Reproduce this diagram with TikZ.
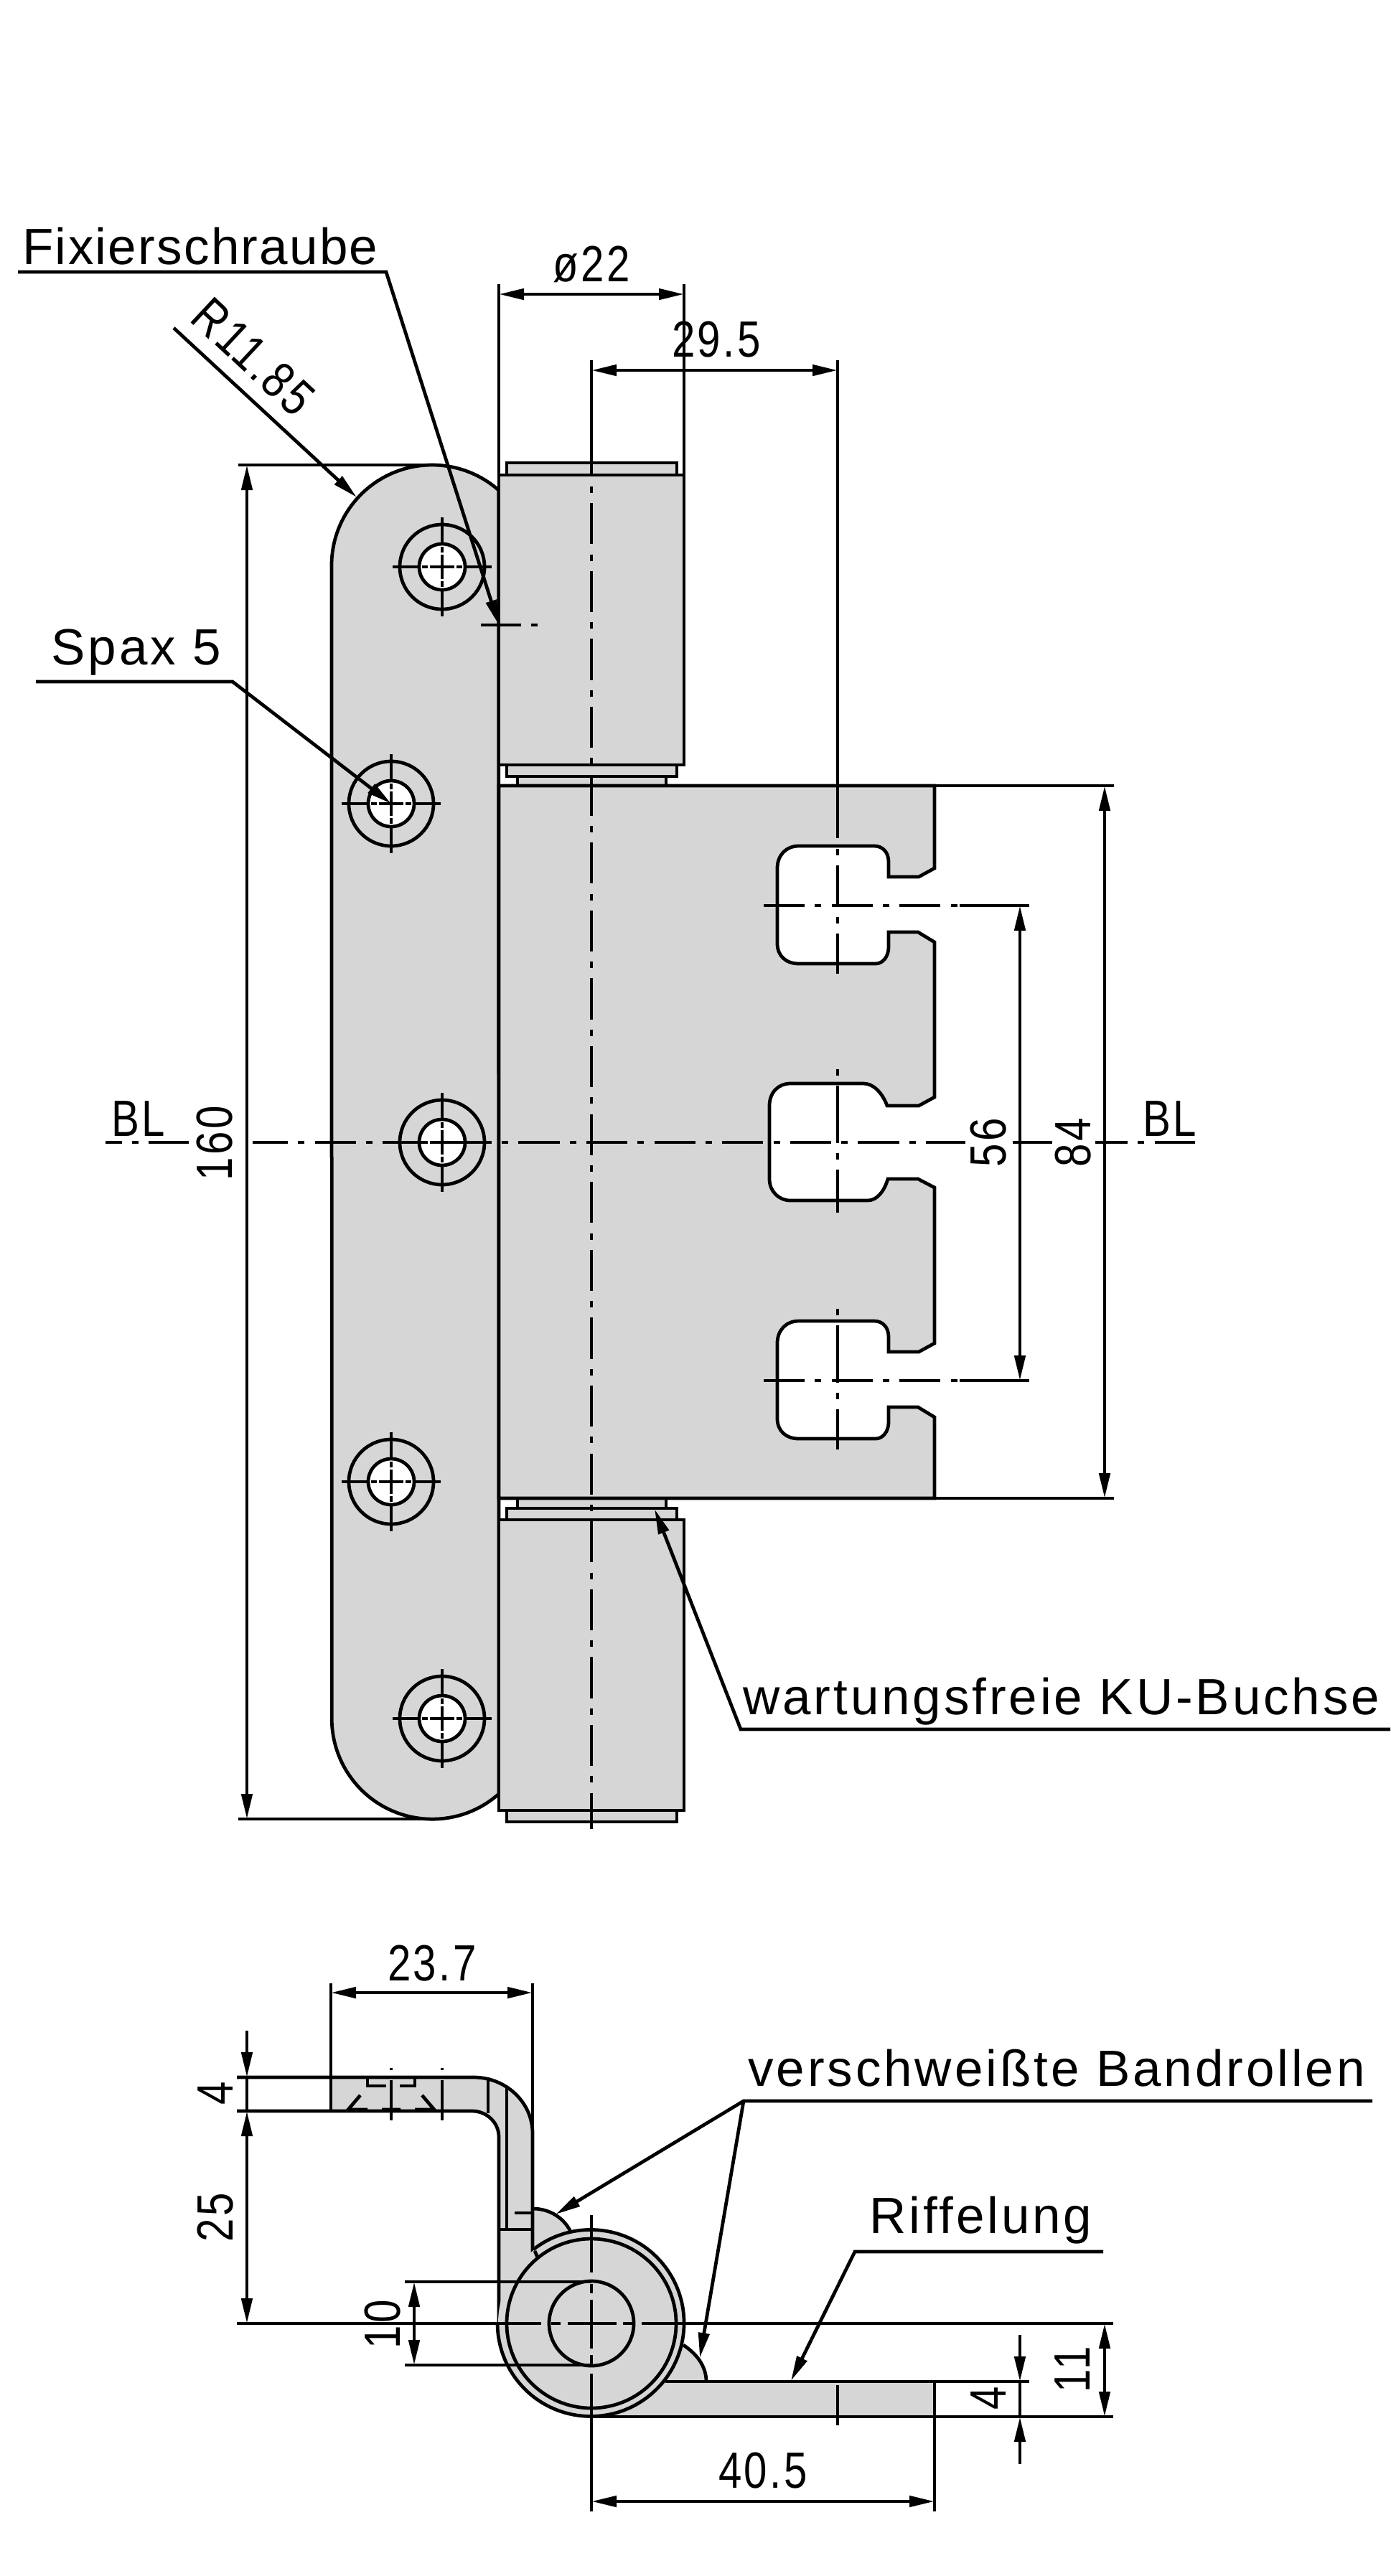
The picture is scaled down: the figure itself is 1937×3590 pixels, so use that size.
\documentclass[tikz,border=0pt]{standalone}
\usepackage{fontspec}
\setmainfont[LetterSpace=5.5]{Liberation Sans}
\newfontfamily\dimfont[FakeStretch=0.82,LetterSpace=5]{Liberation Sans}
\usetikzlibrary{arrows.meta}
\definecolor{partgray}{HTML}{D6D6D6}
\tikzset{
  >={Triangle[length=7pt,width=3pt]},
  part/.style={fill=partgray,draw=black},
  axis/.style={dash pattern=on 11.44pt off 2.84pt on 1.8pt off 2.84pt},
  slotaxis/.style={dash pattern=on 1.8pt off 2.8pt on 16pt off 2.8pt},
  dimlabel/.style={font=\dimfont\fontsize{14.2pt}{16pt}\selectfont,inner sep=0pt},
  notelabel/.style={font=\fontsize{14.2pt}{16pt}\selectfont,inner sep=0pt,anchor=base west},
}
\newcommand{\screwhole}[2]{% centre x, centre y
  \begin{scope}[shift={(#1,#2)}]
    \draw (0,0) circle [radius=59];
    \filldraw[fill=white] (0,0) circle [radius=32];
    \foreach \a in {0,90,180,270}{\draw[rotate=\a] (32,0) -- (69,0) (20,0) -- (28,0);}
    \draw (-17,0) -- (17,0) (0,-17) -- (0,17);
  \end{scope}}
\newcommand{\sideslot}[1]{% slot with the short neck, shifted down by #1
  -- (1302,1210+#1) -- (1280,1222+#1) -- (1238,1222+#1) -- (1238,1201+#1)
  .. controls (1238,1188+#1) and (1230,1179+#1) .. (1218,1179+#1) -- (1113,1179+#1)
  .. controls (1095,1179+#1) and (1083,1192+#1) .. (1083,1210+#1) -- (1083,1315+#1)
  .. controls (1083,1332+#1) and (1095,1343+#1) .. (1113,1343+#1) -- (1220,1343+#1)
  .. controls (1230,1343+#1) and (1238,1333+#1) .. (1238,1320+#1) -- (1238,1299+#1)
  -- (1279,1299+#1) -- (1302,1313+#1)}
\begin{document}
\begin{tikzpicture}[x=0.2pt,y=-0.2pt,line width=0.95pt]
  \useasboundingbox (0,0) rectangle (1937,3590);
  % front view: plate with the screw holes
  \filldraw[part] (462,788) arc [start angle=180,end angle=311.5,radius=140]
      -- (695,2500) arc [start angle=48.5,end angle=180,radius=140] -- cycle;
  \screwhole{616}{790}
  \screwhole{545}{1120}
  \screwhole{616}{1592}
  \screwhole{545}{2065}
  \screwhole{616}{2395}
  % rollers
  \filldraw[part] (706,645) rectangle (943,662);
  \filldraw[part] (695,662) rectangle (953,1066);
  \filldraw[part] (706,1066) rectangle (943,1082);
  \filldraw[part] (721,1082) rectangle (928,1095);
  \filldraw[part] (721,2088) rectangle (928,2102);
  \filldraw[part] (706,2102) rectangle (943,2118);
  \filldraw[part] (695,2118) rectangle (953,2523);
  \filldraw[part] (706,2523) rectangle (943,2539);
  % leaf with three slots
  \filldraw[part] (695,1095) -- (1302,1095) \sideslot{0}
      -- (1302,1529) -- (1280,1541) -- (1236,1541)
      .. controls (1228,1520) and (1215,1510) .. (1203,1510) -- (1101,1510)
      .. controls (1085,1510) and (1072,1522) .. (1072,1541) -- (1072,1643)
      .. controls (1072,1660) and (1085,1673) .. (1101,1673) -- (1209,1673)
      .. controls (1222,1673) and (1232,1660) .. (1237,1643) -- (1279,1643) -- (1302,1655)
      \sideslot{662} -- (1302,2088) -- (695,2088) -- cycle;
  % centre lines
  \draw[axis,dash phase=14.28pt] (824,678) -- (824,2549);
  \draw (824,502) -- (824,662);
  \draw[axis,dash phase=6.84pt] (147,1592) -- (263,1592);
  \draw[axis,dash phase=1.6pt] (352,1592) -- (1345,1592);
  \draw (1411,1592) -- (1466,1592);
  \draw[axis,dash phase=2.4pt] (1526,1592) -- (1665,1592);
  \draw[axis] (1064,1262) -- (1334,1262);
  \draw (1337,1262) -- (1434,1262);
  \draw[axis] (1064,1924) -- (1334,1924);
  \draw (1337,1924) -- (1434,1924);
  \draw (1167,502) -- (1167,1168);
  \draw[axis,dash phase=14.28pt] (1167,1183) -- (1167,1357);
  \draw[slotaxis] (1167,1490) -- (1167,1690);
  \draw[slotaxis] (1167,1824) -- (1167,2020);
  \draw (670,871) -- (726,871) (740,871) -- (749,871);
  % dimensions of the front view
  \draw (695,396) -- (695,662) (953,396) -- (953,662);
  \draw[<->] (695,410) -- (953,410);
  \node[dimlabel,anchor=base] (dimBore) at (824,392) {ø22};
  \draw[<->] (824,516) -- (1167,516);
  \node[dimlabel,anchor=base] (dimOffset) at (998,497) {29.5};
  \draw (332,648) -- (590,648) (332,2535) -- (590,2535);
  \draw[<->] (344,648) -- (344,2535);
  \node[dimlabel,rotate=90] (dimHeight) at (299,1593) {160};
  \draw[<->] (1421,1262) -- (1421,1924);
  \node[dimlabel,rotate=90] (dimSlots) at (1377,1592) {56};
  \draw (1302,1095) -- (1552,1095) (1302,2088) -- (1552,2088);
  \draw[<->] (1539,1095) -- (1539,2088);
  \node[dimlabel,rotate=90] (dimLeaf) at (1495,1592) {84};
  \node[dimlabel,anchor=base west] (blLeft) at (153,1583) {BL};
  \node[dimlabel,anchor=base west] (blRight) at (1590,1583) {BL};
  % notes of the front view
  \coordinate (fixStart) at (25,379);
  \coordinate (fixKnee) at (538,379);
  \coordinate (fixTip) at (695,871);
  \draw[->] (fixStart) -- (fixKnee) -- (fixTip);
  \node[notelabel] (fixNote) at (29,368) {\addfontfeature{LetterSpace=3.2}Fixierschraube};
  \coordinate (radStart) at (242,457);
  \coordinate (radTip) at (497,693);
  \draw[->] (radStart) -- (radTip);
  \node[dimlabel,rotate=-43] (radNote) at (353,497) {R11.85};
  \coordinate (spaxStart) at (50,950);
  \coordinate (spaxKnee) at (324,950);
  \coordinate (spaxTip) at (545,1120);
  \draw[->] (spaxStart) -- (spaxKnee) -- (spaxTip);
  \node[notelabel] (spaxNote) at (69,926) {Spax 5};
  \coordinate (kuEnd) at (1937,2410);
  \coordinate (kuKnee) at (1032,2410);
  \coordinate (kuTip) at (912,2103);
  \draw[->] (kuEnd) -- (kuKnee) -- (kuTip);
  \node[notelabel] (kuNote) at (1033,2389) {wartungsfreie KU-Buchse};
  % section: bent plate
  \fill[partgray] (462,2895) -- (660,2895) .. controls (705,2895) and (742,2930) .. (742,2973)
      -- (742,3238) -- (695,3238) -- (695,2978) .. controls (695,2958) and (678,2942) .. (658,2942)
      -- (462,2942) -- cycle;
  \fill[partgray] (824,3319) rectangle (1302,3368);
  \fill[partgray] (742,3078) .. controls (765,3078) and (785,3090) .. (795,3110) -- (742,3140) -- cycle;
  \fill[partgray] (952,3268) .. controls (970,3280) and (984,3297) .. (984,3319) -- (920,3319) -- cycle;
  \draw (330,2895) -- (660,2895) .. controls (705,2895) and (742,2930) .. (742,2973) -- (742,3153);
  \draw (330,2942) -- (658,2942) .. controls (678,2942) and (695,2958) .. (695,2978) -- (695,3238);
  \draw (680,2895) -- (680,2945) (706,2910) -- (706,3107) (695,3107) -- (742,3107);
  \draw (717,3084) -- (742,3084);
  \draw (742,3078) .. controls (765,3078) and (785,3090) .. (795,3110);
  \draw (952,3268) .. controls (970,3280) and (984,3297) .. (984,3319);
  \draw (512,2895) -- (512,2907) -- (538,2907) (557,2907) -- (578,2907) -- (578,2895);% hidden screw seat
  \draw (502,2920) -- (485,2940) -- (512,2940) (532,2940) -- (558,2940) (578,2940) -- (605,2940) -- (588,2920);
  \foreach \x in {545,616}{\draw (\x,2899) -- (\x,2955) (\x,2882) -- (\x,2885);}
  % section: roller
  \fill[partgray] (824,3238) circle [radius=130];
  \draw (743,3135) arc [start angle=232,end angle=540,radius=130];
  \draw (745,3137) -- (749,3146);
  \draw (824,3238) circle [radius=118];
  \draw (824,3238) circle [radius=59];
  \draw (330,3238) -- (754,3238) (768,3238) -- (781,3238) (791,3238) -- (859,3238)
      (868,3238) -- (884,3238) (894,3238) -- (1551,3238);
  \draw (824,3087) -- (824,3167) (824,3183) -- (824,3196) (824,3205) -- (824,3273)
      (824,3282) -- (824,3298) (824,3308) -- (824,3500);
  \draw (927,3319) -- (1434,3319) (824,3368) -- (1551,3368);
  \draw (1302,3319) -- (1302,3500) (1167,3324) -- (1167,3380);
  % dimensions of the section
  \draw (461,2764) -- (461,2942) (742,2764) -- (742,2973);
  \draw[<->] (461,2777) -- (742,2777);
  \node[dimlabel,anchor=base] (dimBack) at (602,2760) {23.7};
  \draw[->] (344,2830) -- (344,2895);
  \draw (344,2895) -- (344,2942);
  \draw[<->] (344,2942) -- (344,3238);
  \node[dimlabel,rotate=90] (dimThick) at (300,2917) {4};
  \node[dimlabel,rotate=90] (dimDepth) at (300,3090) {25};
  \draw (564,3180) -- (824,3180) (564,3296) -- (824,3296);
  \draw[<->] (577,3180) -- (577,3296);
  \node[dimlabel,rotate=90] (dimPin) at (533,3239) {10};
  \draw[<->] (824,3486) -- (1302,3486);
  \node[dimlabel,anchor=base] (dimFoot) at (1063,3467) {40.5};
  \draw[->] (1421,3254) -- (1421,3319);
  \draw[->] (1421,3434) -- (1421,3368);
  \draw (1421,3319) -- (1421,3368);
  \node[dimlabel,rotate=90] (dimLegThick) at (1377,3342) {4};
  \draw[<->] (1539,3238) -- (1539,3368);
  \node[dimlabel,rotate=90] (dimLeg) at (1494,3302) {11};
  % notes of the section
  \coordinate (weldEnd) at (1912,2928);
  \coordinate (weldKnee) at (1036,2928);
  \coordinate (weldTipA) at (774,3086);
  \coordinate (weldTipB) at (975,3286);
  \draw[->] (weldEnd) -- (weldKnee) -- (weldTipA);
  \draw[->] (weldKnee) -- (weldTipB);
  \node[notelabel] (weldNote) at (1040,2907) {verschweißte Bandrollen};
  \coordinate (ribEnd) at (1537,3138);
  \coordinate (ribKnee) at (1191,3138);
  \coordinate (ribTip) at (1102,3318);
  \draw[->] (ribEnd) -- (ribKnee) -- (ribTip);
  \node[notelabel] (ribNote) at (1209,3112) {Riffelung};
\end{tikzpicture}
\end{document}
